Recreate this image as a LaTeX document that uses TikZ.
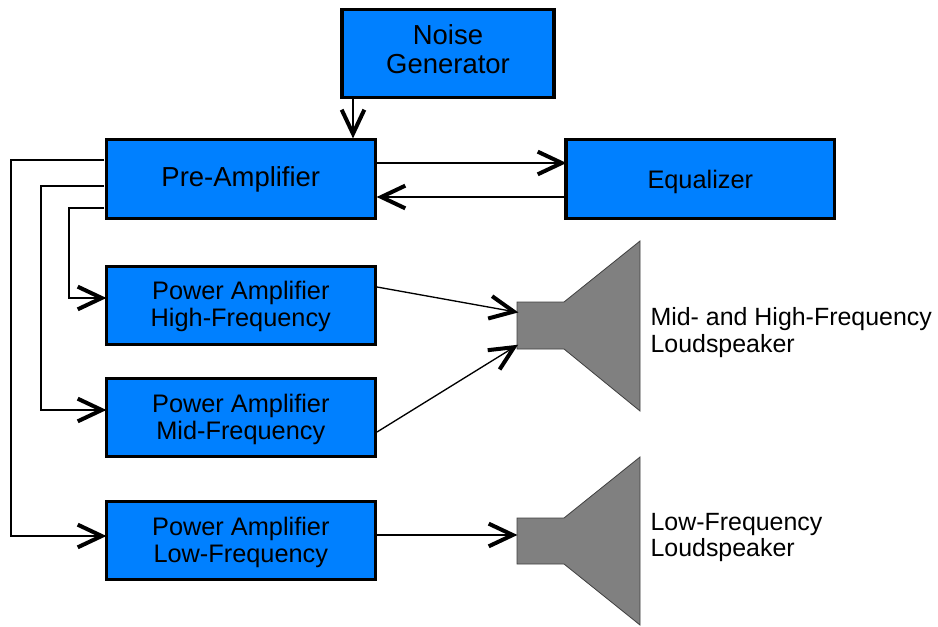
\documentclass[tikz,border=0pt]{standalone}
\usepackage{fontspec}
\setmainfont{Liberation Sans}
\usetikzlibrary{arrows.meta}
\newcommand{\pushdown}[1]{\rule{0pt}{#1}}
\newcommand{\pushup}[1]{\rule[-#1]{0pt}{#1}}
\begin{document}
\begin{tikzpicture}[x=0.75pt,y=-0.75pt,
  block/.style={draw=black,fill=blockblue,line width=2.4pt,inner sep=0pt,align=center,text=black},
  bigtext/.style={font=\fontsize{20.6pt}{22pt}\selectfont},
  midtext/.style={font=\fontsize{19pt}{20.2pt}\selectfont},
  label/.style={anchor=west,align=left,inner sep=0pt,font=\fontsize{18.7pt}{20.2pt}\selectfont},
  horn/.style={draw=black!75,fill=black!50,line width=0.6pt,line join=miter},
  conn/.style={line width=1pt,shorten >=-1.8pt,-{Straight Barb[length=18pt,width=17pt,line width=3pt]}}]
\definecolor{blockblue}{HTML}{0080FF}
\useasboundingbox (0,0) rectangle (938,627);
\node[block,bigtext,minimum width=159pt,minimum height=66pt] (noise) at (448,53.5) {Noise\\Generator\pushup{6.5pt}};
\node[block,bigtext,minimum width=201.5pt,minimum height=59pt] (pre) at (240.8,179) {Pre-Amplifier};
\node[block,midtext,minimum width=201.5pt,minimum height=59pt] (eq) at (700.3,179) {\pushdown{18pt}Equalizer};
\node[block,midtext,minimum width=201.5pt,minimum height=59pt] (high) at (240.8,305.5) {\pushdown{15.5pt}Power Amplifier\\High-Frequency};
\node[block,midtext,minimum width=201.5pt,minimum height=59pt] (mid) at (240.8,417.5) {\pushdown{16.5pt}Power Amplifier\\Mid-Frequency};
\node[block,midtext,minimum width=201.5pt,minimum height=59pt] (low) at (240.8,540.5) {\pushdown{16.5pt}Power Amplifier\\Low-Frequency};
\draw[horn] (517,302) -- (564,302) -- (640,241) -- (640,411) -- (564,349) -- (517,349) -- cycle;
\draw[horn] (517,518) -- (564,518) -- (640,457) -- (640,625) -- (564,564) -- (517,564) -- cycle;
\node[label] (lab1) at (650.3,332.5) {Mid- and High-Frequency\\Loudspeaker};
\node[label] (lab2) at (650.3,537.5) {Low-Frequency\\Loudspeaker};
\coordinate (n1) at (353,99);
\coordinate (p1) at (353,136);
\coordinate (pe) at (377,163);
\coordinate (ep) at (564,163);
\coordinate (eb) at (565,197);
\coordinate (pb) at (379,197);
\coordinate (ps1) at (104,160);
\coordinate (ps2) at (104,186);
\coordinate (ps3) at (104,208);
\coordinate (ha) at (104,298);
\coordinate (ma) at (104,410);
\coordinate (la) at (104,536);
\coordinate (ho) at (377,287);
\coordinate (mo) at (377,432);
\coordinate (lo) at (377,535);
\coordinate (s1) at (516,312);
\coordinate (s2) at (516,346);
\coordinate (s3) at (515,535);
\draw[conn] (n1) -- (p1);
\draw[conn] (pe) -- (ep);
\draw[conn] (eb) -- (pb);
\draw[conn] (ps1) -- (11,160) -- (11,536) -- (la);
\draw[conn] (ps2) -- (41,186) -- (41,410) -- (ma);
\draw[conn] (ps3) -- (69,208) -- (69,298) -- (ha);
\draw[conn] (ho) -- (s1);
\draw[conn] (mo) -- (s2);
\draw[conn] (lo) -- (s3);
\end{tikzpicture}
\end{document}
